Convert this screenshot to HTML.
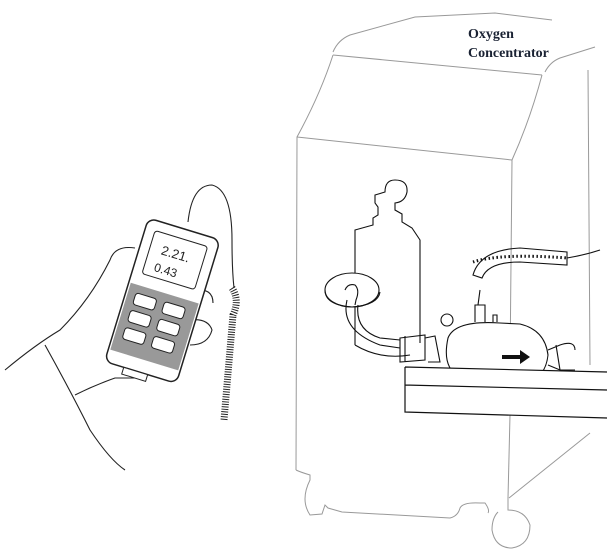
<!DOCTYPE html>
<html><head><style>
html,body{margin:0;padding:0;background:#fff;width:607px;height:558px;overflow:hidden}
svg{display:block}
</style></head><body>
<svg width="607" height="558" viewBox="0 0 607 558" xmlns="http://www.w3.org/2000/svg">
<g fill="none" stroke="#999" stroke-width="1">
 <path d="M333,52 Q338,40 350,35 L415,17 L495,13 L552,20"/>
 <path d="M333,55 L542,75"/>
 <path d="M333,55 Q320,95 297,137 L296,470"/>
 <path d="M297,137 L512,160"/>
 <path d="M545,72 Q550,62 560,58 L595,47"/>
 <path d="M542,75 Q530,120 512,160 L510,367"/>
 <path d="M510,415 L508,498"/>
 <path d="M588,70 L590,365 M590,433 L509,498"/>
 <path d="M296,470 Q300,472 310,475 L310,480 Q300,500 310,515 L322,514 L325,505 L328,508 L342,512 L450,518 Q458,516 460,508 Q463,502 480,503 L485,503 Q490,510 488,513"/>
 <path d="M508,498 L508,510 Q525,510 530,525 Q530,545 512,548 Q495,548 492,530 Q492,518 498,512"/>
</g>
<g fill="none" stroke="#111" stroke-width="1.1">
 <path d="M355,345 L355,230 L373,225 L373,218 L378,215 L378,207 L375,203 L375,195 L385,192 Q385,180 395,180 Q408,180 407,192 Q405,202 395,203 L395,210 L402,214 L402,222 L412,228 L420,240 L420,343"/>
 <path d="M355,345 Q380,360 410,355"/>
 <ellipse cx="352" cy="290" rx="27" ry="17" fill="#fff"/>
 <path d="M325,290 Q325,305 352,307 Q378,305 380,292"/>
 <path d="M345,290 Q348,283 355,285 Q360,290 356,300 L355,305"/>
 <path d="M347,300 Q340,330 380,345 L400,348 M358,305 Q355,330 380,338 L400,340"/>
 <path d="M400,338 L425,335 L425,360 L400,362 Z M405,336 L405,362 M425,338 L435,336 L440,362 L428,362"/>
 <path d="M448,338 Q455,320 500,323 L520,324 Q545,330 548,355 Q545,382 520,382 L470,380 Q440,375 448,338 Z" fill="#fff"/>
 <circle cx="447" cy="320" r="6"/>
 <path d="M475,322 L475,305 L485,305 L485,322 M478,305 L480,290 M493,322 L493,315 L497,315 L497,322"/>
 <path d="M548,350 L560,345 Q575,340 575,350 M548,365 L560,370 L575,370 M556,345 L560,370"/>
 <path d="M473,275 Q480,250 520,248 L567,252 L567,265 L520,262 Q488,262 482,278 Z"/>
 <path d="M567,258 Q585,255 600,250"/>
</g>
<path d="M473,262 Q500,253 567,258" fill="none" stroke="#111" stroke-width="3" stroke-dasharray="1.5 2.5"/>
<path d="M405,367 L607,372 L607,418 L405,412 Z" fill="#fff"/>
<path d="M405,367 L607,372 M405,367 L405,412 L607,418 M405,385 L607,390" fill="none" stroke="#111" stroke-width="1.2"/>
<path d="M502,355 L520,355 L520,350 L530,357 L520,364 L520,359 L502,359 Z" fill="#111"/>
<g fill="none" stroke="#222" stroke-width="1.1">
 <path d="M5,370 Q35,345 60,330 Q90,300 110,260 Q115,245 135,248"/>
 <path d="M45,345 Q70,390 90,430 Q110,460 125,470"/>
 <path d="M75,395 Q95,385 115,378 L135,378"/>
 <path d="M190,320 Q208,318 212,330 Q208,345 190,345"/>
 <path d="M195,290 Q213,288 213,303"/>
 <path d="M188,222 Q192,185 212,185 Q232,190 232,240 Q232,270 234,288"/>
</g>
<path d="M232,288 Q240,300 233,315 L224,420" fill="none" stroke="#222" stroke-width="7" stroke-dasharray="1 1.5"/>
<g transform="rotate(17 160 300)">
 <rect x="125" y="225" width="75" height="150" rx="8" fill="#fff" stroke="#222" stroke-width="1.5"/>
 <rect x="135" y="235" width="55" height="45" rx="3" fill="#fff" stroke="#222"/>
 <text x="147" y="256" font-family="Liberation Sans,sans-serif" font-size="13" fill="#222">2.21.</text>
 <text x="145" y="274" font-family="Liberation Sans,sans-serif" font-size="12" fill="#222">0.43</text>
 <rect x="127" y="292" width="71" height="70" fill="#999"/>
 <rect x="135" y="300" width="22" height="12" rx="3" fill="#fff" stroke="#222"/>
 <rect x="165" y="300" width="22" height="12" rx="3" fill="#fff" stroke="#222"/>
 <rect x="135" y="318" width="22" height="12" rx="3" fill="#fff" stroke="#222"/>
 <rect x="165" y="318" width="22" height="12" rx="3" fill="#fff" stroke="#222"/>
 <rect x="135" y="336" width="22" height="12" rx="3" fill="#fff" stroke="#222"/>
 <rect x="165" y="336" width="22" height="12" rx="3" fill="#fff" stroke="#222"/>
 <rect x="145" y="375" width="25" height="7" fill="#fff" stroke="#222"/>
</g>
<text x="468" y="38" font-family="Liberation Serif,serif" font-weight="bold" font-size="14" fill="#1a2233">Oxygen</text>
<text x="468" y="57" font-family="Liberation Serif,serif" font-weight="bold" font-size="14" fill="#1a2233">Concentrator</text>
</svg>
</body></html>
